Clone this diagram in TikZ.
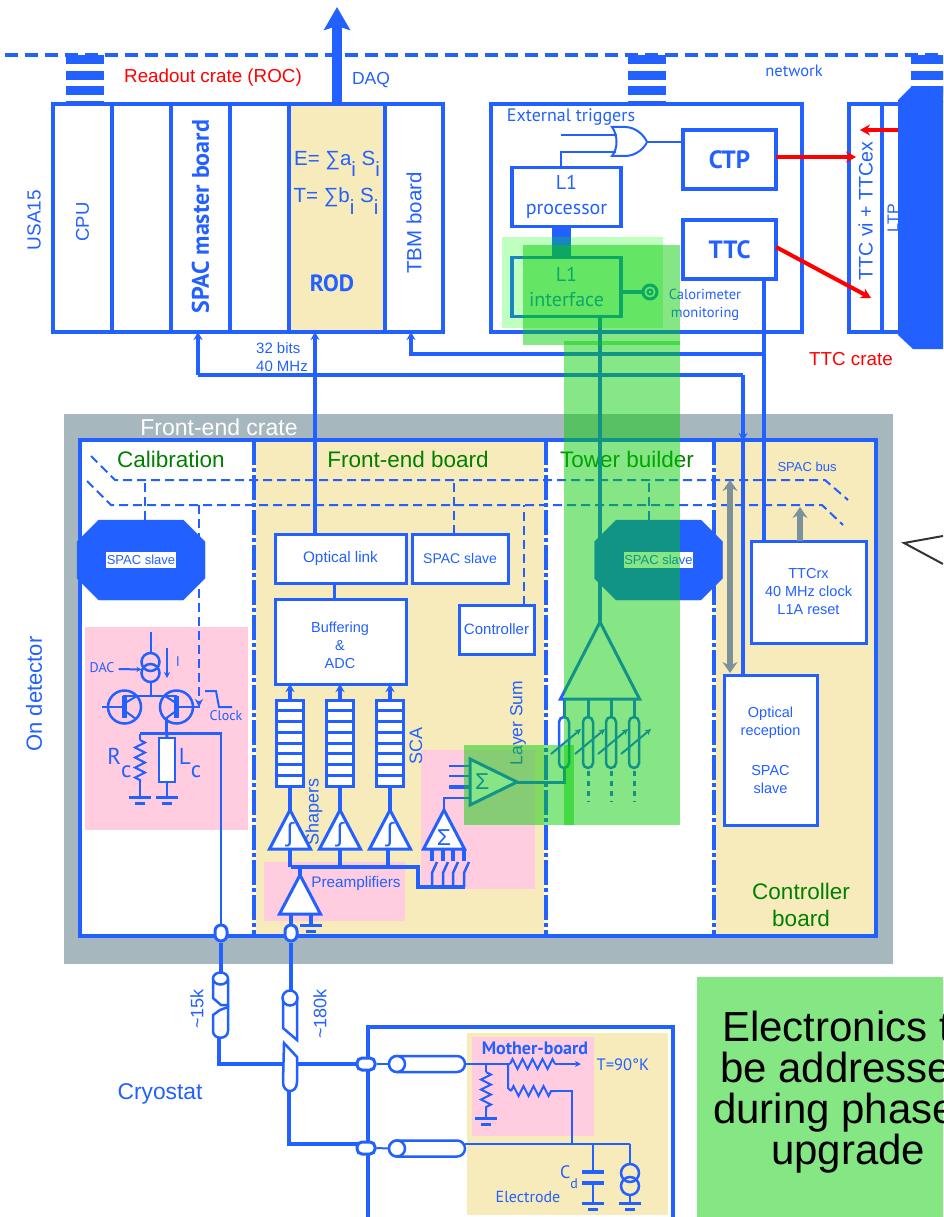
\documentclass[tikz,border=0pt]{standalone}
\usepackage{fontspec}
\setmainfont{Liberation Sans}
\newfontfamily\myriad{PT Sans}
\usetikzlibrary{arrows.meta,positioning,shapes.geometric,shapes.misc,decorations.pathmorphing}
\definecolor{elec}{RGB}{34,96,255}
\definecolor{boardtan}{RGB}{247,234,187}
\definecolor{softpink}{RGB}{255,204,224}
\definecolor{crategrey}{RGB}{166,184,190}
\definecolor{titlegreen}{RGB}{0,128,0}
\definecolor{busgrey}{RGB}{125,145,155}
\definecolor{notegreen}{RGB}{132,231,132}
\newcommand{\fs}[2]{\fontsize{#1}{#2}\selectfont}
\newcommand{\sbi}[1]{\raisebox{-.55em}{#1}}
\newcommand{\gndmark}[2]{%
  \draw[elec, line width=3pt] (#1-11,#2) -- (#1+11,#2);
  \draw[elec, line width=3pt] (#1-5,#2+6) -- (#1+5,#2+6);}

\begin{document}
\begin{tikzpicture}[
    x=1pt, y=-1pt,
    box/.style={draw=elec, fill=white, line width=3pt, inner sep=0pt, outer sep=0pt, align=center, text=elec, font=\fs{14.5}{18}},
    board/.style={box, line width=3.5pt, minimum height=228pt, font=\fs{18.5}{20}},
    logic/.style={box, line width=3.5pt, font=\myriad\bfseries\fs{25}{28}, minimum width=93pt, minimum height=59pt},
    l1box/.style={box, line width=3.5pt, font=\myriad\fs{20}{25}, minimum width=109pt, minimum height=59pt},
    txt/.style={text=elec, inner sep=0pt, align=center},
    title/.style={text=titlegreen, inner sep=0pt, align=center, font=\fs{22.5}{27}},
    wire/.style={elec, line width=3.5pt},
    thinwire/.style={elec, line width=2pt},
    link/.style={elec, line width=3.5pt, -{Stealth[length=8pt,width=9pt]}},
    redlink/.style={red, line width=4pt, -{Stealth[length=10pt,width=11pt]}},
    greylink/.style={busgrey, line width=6pt, {Stealth[length=11pt,width=15pt]}-{Stealth[length=11pt,width=15pt]}},
    dashwire/.style={elec, line width=2pt, dash pattern=on 9pt off 5pt},
    divider/.style={elec, line width=4pt, dash pattern=on 25pt off 3pt on 4pt off 3pt},
    blob/.style={chamfered rectangle, fill=elec, draw=elec, text=elec, minimum width=128pt, minimum height=80pt, chamfered rectangle xsep=14pt, chamfered rectangle ysep=14pt, inner sep=0pt, font=\fs{13}{15}},
    tri/.style={draw=elec, fill=white, line width=3pt, isosceles triangle, isosceles triangle stretches, shape border rotate=90, minimum width=41pt, minimum height=39pt, inner sep=0pt, outer sep=0pt, anchor=apex, text=elec},
    pad/.style={draw=elec, fill=white, line width=3pt, rounded corners=6pt, inner sep=0pt, minimum width=12pt, minimum height=16pt},
    coil/.style={draw=elec, line width=2.5pt, rounded corners=5pt, inner sep=0pt, outer sep=0pt, minimum width=10pt, minimum height=51pt},
    coax/.style={draw=elec, fill=white, line width=2.5pt, rounded corners=8pt, inner sep=0pt, outer sep=0pt, minimum width=76pt, minimum height=16pt},
    ring/.style={circle, draw=elec, line width=2.5pt, inner sep=0pt, outer sep=0pt},
    resistor/.style={decorate, decoration={zigzag, segment length=10pt, amplitude=5pt}},
    overlay/.style={fill={rgb,255:red,0;green,204;blue,0}, fill opacity=0.475},
    zone/.style={inner sep=0pt, outer sep=0pt}
]
\path[use as bounding box, clip] (0,0) rectangle (943,1217);

% network and crates
\draw[elec, line width=3.5pt, dash pattern=on 13pt off 7pt] (5,55) -- (943,55);
\foreach \x in {66,628,911} {
  \foreach \ya/\yb in {55/64,71/80,86/95,101/103}
    \fill[elec] (\x,\ya) rectangle (\x+38,\yb);
}
\node[txt, text=red, font=\fs{18.8}{22}] (rocname) at (213,78) {Readout crate (ROC)};
\node[txt, font=\fs{17.5}{20}] (daqname) at (371,80) {DAQ};
\node[txt, font=\myriad\fs{16.5}{18}] (netname) at (794,71) {network};
\node[txt, font=\fs{19}{20}, rotate=90] (usaname) at (34,220) {USA15};

\node[board, minimum width=59pt] (cpu) at (82.5,218) {\rotatebox{90}{CPU\hspace{8pt}}};
\node[board, minimum width=59pt, right=0pt of cpu] (spareone) {};
\node[board, minimum width=59pt, right=0pt of spareone, font=\myriad\bfseries\fs{24}{26}] (spacmaster) {\rotatebox{90}{\hspace{3pt}SPAC master board}};
\node[board, minimum width=59pt, right=0pt of spacmaster] (sparetwo) {};
\node[board, minimum width=96pt, right=0pt of sparetwo, fill=boardtan] (rod) {};
\node[board, minimum width=58pt, right=0pt of rod, font=\fs{20.5}{22}] (tbm) {\rotatebox{90}{TBM board\hspace{10pt}}};
\node[txt, font=\fs{20.5}{22}] (rodE) at (337,164) {E= ∑a\sbi{i} S\sbi{i}};
\node[txt, font=\fs{20.5}{22}] (rodT) at (336,201) {T= ∑b\sbi{i} S\sbi{i}};
\node[txt, font=\myriad\bfseries\fs{23.5}{25}] (rodname) at (332,283) {ROD};
\coordinate (daqout) at (337,7);
\draw[elec, line width=10pt, -{Stealth[length=23pt,width=26pt,inset=4pt]}] (rod.north -| daqout) -- (daqout);

\node[box, line width=3.5pt, minimum width=311pt, minimum height=228pt] (trigcrate) at (646.5,218) {};
\node[txt, font=\myriad\fs{18}{20}] (extname) at (571,117) {External triggers};
\node[logic] (ctp) at (729.5,159.5) {CTP};
\node[logic, below=31pt of ctp] (ttc) {TTC};
\node[l1box] (processor) at (566.5,197) {L1\\processor};
\node[l1box, below=31pt of processor] (interface) {L1\\interface};
\draw[elec, line width=19pt] ([xshift=-5pt]processor.south) -- ([xshift=-5pt]interface.north);
\draw[thinwire, fill=white] (612,127) -- (625,127) .. controls (637,127) and (645,137) .. (647,142) .. controls (645,147) and (637,156) .. (625,156) -- (612,156) .. controls (618,149) and (618,135) .. (612,127) -- cycle;
\coordinate (orout) at (647,142);
\coordinate (orupper) at (561,135);
\draw[thinwire] (orupper) -- (617,135);
\draw[thinwire] (processor.north -| orupper) |- (616,152);
\draw[thinwire] (orout) -- (ctp.west |- orout);
\node[ring, minimum size=14pt, line width=3pt] (monring) at (650,292) {};
\node[ring, minimum size=5pt, line width=2pt] (monpoint) at (650,292) {};
\draw[wire, line width=4pt] (interface.east |- monring) -- (monring.west);
\node[txt, font=\myriad\fs{14.5}{18}] (monname) at (705,305) {Calorimeter\\monitoring};

\node[board, minimum width=33pt, font=\fs{19.6}{22}] (ttcvi) at (865.5,218) {\rotatebox{90}{\hspace{14pt}TTC vi + TTCex}};
\node[board, minimum width=22pt, right=0pt of ttcvi, font=\fs{16}{18}] (ltp) {\rotatebox{90}{LTP}};
\coordinate (ttcblobwest) at (898,130);
\fill[elec] (898,100) -- (911,87) -- (943,87) -- (943,349) -- (913,349) -- (898,335) -- cycle;
\node[txt, text=red, font=\fs{18.8}{20}] (ttcname) at (851,359) {TTC crate};
\coordinate (ltpred) at (860,130);
\coordinate (ttcred) at (871,298);
\draw[redlink] (ctp.east |- 776,157) -- (ttcvi.west |- 776,157) -- ++(7,0);
\draw[redlink] (ttc.east |- 776,247) -- (ttcred);
\draw[redlink] (ttcblobwest) -- (ltpred);

% front-end crate
\node[zone, fill=crategrey, minimum width=829pt, minimum height=550pt] (fecrate) at (478.5,689) {};
\node[txt, text=white, font=\fs{23}{25}] (fename) at (219,427) {Front-end crate};
\node[zone, fill=white, minimum width=796pt, minimum height=496pt] (feinner) at (478,688) {};
\node[zone, fill=boardtan, minimum width=292pt, minimum height=496pt] (feboard) at (400,688) {};
\node[zone, fill=boardtan, minimum width=162pt, minimum height=496pt] (ctrlboard) at (795,688) {};
\node[zone, fill=softpink, minimum width=163pt, minimum height=203pt] (calpink) at (166.5,728.5) {};
\foreach \x in {254,546,714} {
  \draw[white, line width=4pt] (\x,440) -- (\x,936);
  \draw[divider] (\x,440) -- (\x,936);
}
\draw[elec, line width=4pt] (80,440) rectangle (876,936);
\node[title] (calname) at (171,459) {Calibration};
\node[title] (fbname) at (408,459) {Front-end board};
\node[title] (towername) at (627,459) {Tower builder};
\node[title] (ctrlname) at (801,905) {Controller\\board};
\node[txt, font=\fs{22}{24}, rotate=90] (ondetname) at (34,694) {On detector};
\node[txt, font=\fs{13}{15}] (busname) at (807,467) {SPAC bus};

% SPAC bus
\coordinate (busup) at (115,480);
\coordinate (buslow) at (111,505);
\draw[dashwire] (91,456) -- (busup) -- (825,480) -- (848,500);
\draw[dashwire] (87,481) -- (buslow) -- (822,505) -- (843,525);

\node[pad] (padcal) at (221,933) {};
\node[pad] (padfe) at (291,933) {};

% boxes of the front-end board
\node[box, minimum width=131pt, minimum height=49pt, font=\fs{15.3}{18}] (optical) at (340.5,558.5) {Optical link};
\node[box, minimum width=96pt, minimum height=49pt, right=6pt of optical, font=\fs{14}{18}] (slavefe) {SPAC slave};
\node[box, minimum width=131pt, minimum height=85pt, below=16pt of optical] (buffer) {};
\node[txt, font=\fs{14.5}{18}] (buffername) at (340,645) {Buffering\\\&\\ADC};
\node[box, minimum width=75pt, minimum height=49pt, font=\fs{15}{18}] (controller) at (496.5,629.5) {Controller};
\draw[wire, line width=3pt] (buffer.north -| 334,0) -- (optical.south -| 334,0);
\draw[dashwire] (slavefe.north -| 454,0) -- (454,480);
\draw[dashwire] (controller.north -| 524,0) -- (524,505);
\draw[dashwire] (145,520) -- (145,480);
\draw[dashwire] (649,520) -- (649,480);
\draw[dashwire, -{Stealth[length=8pt,width=8pt]}] (199,505) -- (199,707);

% readout paths
\draw[link] (optical.north -| 315,0) -- (rod.south -| 315,0);
\coordinate (spacline) at (198,375);
\coordinate (tbmline) at (411,354);
\draw[link] (spacline) -- (spacmaster.south -| spacline);
\draw[wire] (spacline) -- (743,375);
\draw[link] (743,375) -- (743,441);
\draw[link] (764,354) -| (tbm.south -| tbmline);
\node[txt, align=left, font=\fs{15}{18}] (busbits) at (282,357) {32 bits\\40 MHz};

% controller board
\node[box, minimum width=115pt, minimum height=102pt] (ttcrx) at (808.5,592) {TTCrx\\40 MHz clock\\L1A reset};
\node[box, minimum width=93pt, minimum height=150pt] (optrec) at (770.5,750) {Optical\\reception\\[22pt]SPAC\\slave};
\draw[wire] (743,441) -- (optrec.north -| 743,0);
\draw[wire] (ttc.south -| 764,0) -- (ttcrx.north -| 764,0);
\draw[greylink] (730,480) -- (730,673);
\draw[busgrey, line width=6pt, -{Stealth[length=11pt,width=15pt]}] (ttcrx.north -| 800,0) -- (800,507);

% tower builder
\node[tri, fill=none, minimum width=79pt, minimum height=77pt] (towersum) at (600,622) {};
\draw[wire] (towersum.apex) -- (interface.south -| towersum.apex);
\node[blob] (slavecal) at (141,560) {\colorbox{white}{\hspace{-2.5pt}SPAC slave\hspace{-2.5pt}}};
\node[blob] (slavetower) at (658.5,560) {\colorbox{white}{\hspace{-2.5pt}SPAC slave\hspace{-2.5pt}}};
\foreach \i/\x in {1/564,2/588,3/611,4/634} {
  \node[coil] (coil\i) at (\x,742.5) {};
  \draw[wire, line width=3pt] (coil\i.north) -- (\x,699);
  \draw[thinwire, -{Stealth[length=6pt,width=6pt]}] (\x-13,754) -- (\x+17,729);
}
\foreach \i/\x in {2/588,3/611,4/634}
  \draw[elec, line width=3pt, dash pattern=on 5pt off 5pt] (coil\i.south) ++(0,3) -- (\x,802);

% calibration circuit
\node[ring, minimum size=18pt] (csrcup) at (150.5,662) {};
\node[ring, minimum size=18pt] (csrclow) at (150.5,673) {};
\coordinate (csrctop) at (150.5,632);
\coordinate (baseleft) at (123,696);
\coordinate (baseright) at (177,696);
\node[ring, minimum size=33pt] (qleft) at (124.5,707) {};
\node[ring, minimum size=33pt] (qright) at (176.5,707) {};
\draw[thinwire] (csrctop) -- (csrcup.north);
\draw[thinwire] (csrclow.south) -- (csrclow.south |- baseleft);
\draw[wire, line width=2.5pt] (baseleft) -- (baseright);
\fill[elec] (122,696) rectangle (127,718);
\fill[elec] (174,696) rectangle (179,718);
\draw[thinwire] (102,707) -- (124,707);
\draw[thinwire] (125,703) -- (137,696);
\draw[thinwire] (125,711) -- (136,719);
\draw[thinwire] (177,707) -- (200,707);
\draw[thinwire] (176,703) -- (165,696);
\draw[thinwire] (176,711) -- (165,719);
\node[txt, font=\myriad\fs{14}{16}] (dacname) at (102,668) {DAC};
\draw[thinwire, -{Stealth[length=5pt,width=5pt]}] (dacname.east) ++(4,1) -- (csrclow.west |- 141,669.5);
\draw[thinwire, -{Stealth[length=6pt,width=6pt]}] (167,648) -- (167,678);
\node[txt, font=\myriad\fs{14}{16}] (iname) at (178,662) {I};
\draw[thinwire] (205,691) -- (216,691) -- (219,707) -- (232,707);
\node[txt, font=\myriad\fs{14}{16}] (clockname) at (226,716) {Clock};
\node[box, line width=2pt, minimum width=16pt, minimum height=44pt] (lcoil) at (167,760) {};
\coordinate (cnode) at (166.7,733.5);
\coordinate (rctop) at (140,733.5);
\draw[wire] (166.7,718) -- (cnode);
\draw[wire, line width=3pt] (lcoil.north) -- (cnode);
\draw[wire, line width=2.5pt] (rctop) -- (221,733.5) -- (padcal.north);
\draw[thinwire] (rctop) -- (140,740);
\draw[thinwire, resistor] (140,740) -- (140,782);
\draw[thinwire] (140,782) -- (140,797);
\draw[thinwire] (lcoil.south) -- (167,797);
\gndmark{140}{797}
\gndmark{167}{797}
\node[txt, font=\myriad\fs{23}{25}] (rcname) at (119.5,763) {R\sbi{c}};
\node[txt, font=\myriad\fs{23}{25}] (lcname) at (190,763) {L\sbi{c}};

% shapers, SCA and sums
\node[zone, fill=softpink, minimum width=141pt, minimum height=59pt] (prepink) at (334.5,891.5) {};
\node[zone, fill=softpink, minimum width=114pt, minimum height=139pt] (sumpink) at (478,819.5) {};
\coordinate (pabus) at (291,867);
\coordinate (swbus) at (465,887);
\foreach \i/\x in {1/290,2/340,3/390} {
  \node[box, line width=3pt, minimum width=27pt, minimum height=86pt] (sca\i) at (\x,743) {};
  \foreach \k in {1,...,7} \draw[wire, line width=3pt] (\x-13.5,700+\k*10.75) -- (\x+13.5,700+\k*10.75);
  \draw[link] (sca\i.north) -- (buffer.south -| sca\i.north);
  \node[tri, font=\fs{26}{26}] (shaper\i) at (\x,810) {∫};
  \draw[wire] (sca\i.south) -- (shaper\i.apex);
}
\draw[wire] (shaper1.south) -- (shaper1.south |- pabus);
\draw[wire] (shaper2.south) -- (shaper2.south |- pabus);
\draw[wire] ([xshift=-2pt]shaper3.south) -- ([xshift=-2pt]shaper3.south |- pabus);
\draw[wire] (pabus) -- (418,867) -- (418,887) -- (swbus);
\node[tri] (preamp) at (300,875) {};
\draw[wire] (preamp.apex) -- (preamp.apex |- pabus);
\draw[wire] ([xshift=-9pt]preamp.south) -- (padfe.north);
\draw[wire] ([xshift=11pt]preamp.south) -- (311,925);
\gndmark{311}{925}
\node[tri, font=\fs{23}{23}] (sumtri) at (444,810) {Σ};
\foreach \x in {432,443,453,464} {
  \draw[wire] (\x,849) -- (\x,861);
  \draw[wire, line width=2.5pt] (\x,887) -- (\x,873) -- (\x+5,862);
}
\node[tri, shape border rotate=0, minimum width=46pt, minimum height=47pt, font=\fs{23}{23}] (layeramp) at (517,782) {Σ};
\foreach \y in {766,776} \draw[thinwire] (449,\y) -- (layeramp.west |- 449,\y);
\draw[wire] (449,787) -- (layeramp.west |- 449,787);
\draw[thinwire] (sumtri.apex) |- (layeramp.west |- 449,798);
\draw[wire, line width=3pt] (layeramp.apex) -| (coil1.south);
\node[txt, font=\fs{15.3}{16}] (prename) at (356,884) {Preamplifiers};
\node[txt, font=\fs{18}{20}, rotate=90] (shapename) at (314,812) {Shapers};
\node[txt, font=\fs{18}{20}, rotate=90] (scaname) at (416,746) {SCA};
\node[txt, font=\fs{17.5}{20}, rotate=90] (sumname) at (518,723) {Layer Sum};

% cables
\draw[wire, line width=2.5pt, fill=white] (213,979) -- (213,998) -- (221,1005) -- (228,1005) -- (228,979);
\node[ring, ellipse, fill=white, minimum width=15pt, minimum height=12pt] (capone) at (220.5,978.5) {};
\draw[wire] (padcal.south) -- (padcal.south |- capone.north);
\draw[wire, line width=2.5pt, fill=white] (228,1007) -- (220,1010) -- (213,1015) -- (213,1031) .. controls (213,1040) and (228,1040) .. (228,1031) -- cycle;
\draw[wire, line width=2.5pt, fill=white] (283,998) -- (283,1028) -- (297,1040) -- (297,998);
\node[ring, fill=white, minimum size=15pt] (captwo) at (290,998) {};
\draw[wire] (padfe.south) -- (padfe.south |- captwo.north);
\draw[wire, line width=2.5pt, fill=white] (284,1043) -- (297,1057) -- (297,1082) .. controls (297,1094) and (283,1094) .. (283,1082) -- cycle;
\node[txt, font=\fs{18}{20}, rotate=90] (kone) at (197,1009) {\textasciitilde 15k};
\node[txt, font=\fs{18}{20}, rotate=90] (ktwo) at (320,1014) {\textasciitilde 180k};
\node[txt, font=\fs{22.8}{24}] (cryoname) at (160,1094) {Cryostat};

% cryostat
\node[zone, fill=boardtan, minimum width=201pt, minimum height=182pt] (electrode) at (567.5,1124) {};
\node[zone, fill=softpink, minimum width=122pt, minimum height=99pt] (motherpink) at (533,1086.5) {};
\draw[elec, line width=4pt] (368,1220) -- (368,1027) -- (673,1027) -- (673,1220);
\coordinate (cableupper) at (297,1064);
\draw[wire] (219,1037) |- (283,1064);
\draw[wire, line width=4pt] (cableupper) -- (358,1064);
\draw[wire, line width=3.5pt] (289,1090) |- (358,1144);
\node[pad, minimum width=18pt, minimum height=12pt, rounded corners=5pt] (padup) at (366,1064) {};
\node[pad, minimum width=18pt, minimum height=12pt, rounded corners=5pt] (padlow) at (366,1148) {};
\node[coax] (coaxup) at (427,1064) {};
\node[coax] (coaxlow) at (427,1148.5) {};
\node[ring, fill=white, minimum size=16pt] (coaxcapup) at (397,1064) {};
\node[ring, fill=white, minimum size=16pt] (coaxcaplow) at (397,1148.5) {};
\draw[thinwire] (padup.east) -- (coaxcapup.west);
\draw[thinwire] (padlow.east) -- (coaxcaplow.west);
\coordinate (mbsplit) at (508,1064);
\draw[thinwire] (coaxup.east) -- (mbsplit) -- (510,1064);
\draw[thinwire, resistor] (510,1064) -- (555,1064);
\draw[thinwire, -{Stealth[length=6pt,width=6pt]}] (555,1064) -- (581,1064);
\draw[thinwire] (486,1064) -- (486,1072);
\draw[thinwire, resistor] (486,1072) -- (486,1110);
\draw[thinwire] (486,1110) -- (486,1118);
\gndmark{486}{1118}
\draw[thinwire] (mbsplit) -- (508,1088) -- (511,1091);
\draw[thinwire, resistor] (511,1091) -- (555,1091);
\draw[thinwire] (555,1091) -- (572,1091) -- (572,1144);
\coordinate (electrail) at (630,1144);
\draw[thinwire] ([yshift=4.5pt]coaxlow.east) -- (electrail);
\node[ring, minimum size=18pt] (elecup) at (630,1173) {};
\node[ring, minimum size=18pt] (eleclow) at (630,1186) {};
\draw[thinwire] (electrail) -- (elecup.north);
\draw[thinwire] (eleclow.south) -- (630,1203);
\gndmark{630}{1203}
\draw[thinwire] (593,1144) -- (593,1172);
\draw[elec, line width=3.5pt] (582,1172) -- (604,1172);
\draw[elec, line width=3.5pt] (582,1183) -- (604,1183);
\draw[thinwire] (593,1183) -- (593,1203);
\gndmark{593}{1203}
\node[txt, font=\myriad\bfseries\fs{18}{20}] (mothername) at (535,1048) {Mother-board};
\node[txt, font=\myriad\fs{16.5}{18}] (tempname) at (623,1065) {T=90°K};
\node[txt, font=\myriad\fs{16}{18}] (elecname) at (528,1197) {Electrode};
\node[txt, font=\myriad\fs{18}{20}] (cdname) at (569,1177) {C\sbi{\fs{14}{16}d}};

% note
\node[zone, fill=notegreen, minimum width=260pt, minimum height=240pt, anchor=north west] (notebox) at (697,977) {};
\foreach \n/\x/\y/\t in {one/722/1041/Electronics t, two/720/1082/be addresse, three/713/1123/during phase, four/771/1164/upgrade}
  \node[inner sep=0pt, anchor=base west, font=\fs{42}{44}] (note\n) at (\x,\y) {\t};
\draw[black!80, line width=2pt] (943,536) -- (904,543) -- (943,564);

% highlights
\fill[fill={rgb,255:red,0;green,255;blue,0}, fill opacity=0.25] (502,237) rectangle (663,328);
\fill[overlay] (523,245) rectangle (680,345);
\fill[overlay] (564,341) rectangle (680,825);
\fill[overlay] (464,745) rectangle (574,825);
\end{tikzpicture}
\end{document}
